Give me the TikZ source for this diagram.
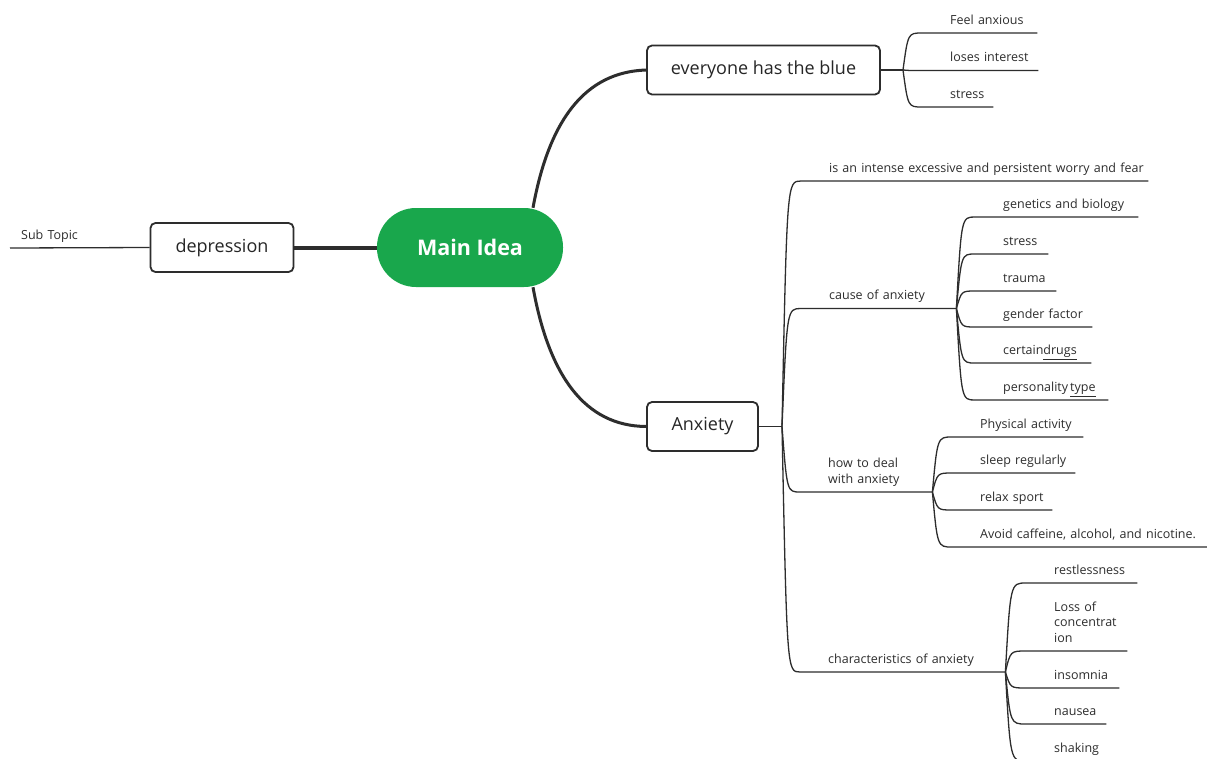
\documentclass[tikz,border=0pt]{standalone}
\usepackage{fontspec}
\setmainfont{Open Sans}
\usetikzlibrary{calc}

\definecolor{ideagreen}{RGB}{25,167,76}
\definecolor{inkgray}{RGB}{45,45,45}

\tikzset{
  topic/.style={draw=inkgray, line width=1.8pt, rounded corners=5pt, fill=white,
    text=black!85, font=\fontsize{18}{21}\selectfont, minimum height=49pt},
  trunk/.style={draw=inkgray, line width=3pt},
  twig/.style={draw=inkgray, line width=1.3pt},
  leaf/.style={anchor=south west, inner xsep=0pt, inner ysep=8.5pt, text depth=0pt,
    align=left, text=inkgray, font=\fontsize{12.5}{15.5}\selectfont},
}

\begin{document}
\begin{tikzpicture}[x=1pt,y=-1pt]
\fill[white] (0,0) rectangle (1207,758); % page size
\useasboundingbox (0,0) rectangle (1207,758);
\clip (0,0) rectangle (1207,758);

% central idea and main topics
\node[fill=ideagreen, rounded corners=39pt, minimum width=186pt, minimum height=79pt,
  text=white, font=\bfseries\fontsize{21.5}{24}\selectfont] (main) at (470,247.5) {Main Idea};
\node[topic, minimum width=143pt] (dep) at (222,247.5) {depression};
\node[topic, minimum width=233pt] (blue) at (763.5,70) {everyone has the blue};
\node[topic, minimum width=111pt] (anx) at (702.5,426.5) {Anxiety};

\draw[trunk, line width=4pt] (dep.east) -- (main.west);
\draw[trunk]
     ($(main.north)+(63,0)$)
  .. controls (549,120) and (585,72) .. (blue.west);
\draw[trunk]
     ($(main.south)+(63,0)$)
  .. controls (549,376) and (585,426) .. (anx.west);

\node[leaf, text width=131pt] (sub) at (21,248) {Sub Topic};
\draw[twig] ($(sub.south west)+(-11,0)$) -- (dep.west);

% everyone has the blue
\draw[twig] (blue.east) -- (903,70) coordinate(bj);
\node[leaf, text width=87pt] (feel) at (950,33) {Feel anxious};
\node[leaf, text width=88pt] (loses) at (950,70.5) {loses interest};
\node[leaf, text width=43pt] (stressa) at (950,107) {stress};

% Anxiety
\draw[twig] (anx.east) -- (782,426.5) coordinate(aj);
\node[leaf, text width=319pt] (intense) at (829,181) {is an intense excessive and persistent worry and fear};
\node[leaf, text width=127pt] (cause) at (829,308.5) {cause of anxiety};
\node[leaf, text width=104pt, text depth=15.5pt] (how) at (828,492) {how to deal\\with anxiety};
\node[leaf, text width=177pt] (chars) at (828,672) {characteristics of anxiety};

% causes
\node[leaf, text width=135pt] (gen) at (1003,217) {genetics and biology};
\node[leaf, text width=45pt] (stressb) at (1003,254) {stress};
\node[leaf, text width=53pt] (trauma) at (1003,291) {trauma};
\node[leaf, text width=89pt] (gender) at (1003,327) {gender factor};
\node[leaf, text width=88pt] (drugs) at (1003,363) {certain\underline{drugs}};
\node[leaf, text width=105pt] (person) at (1003,400) {personality\,\underline{type}};

% dealing with it
\node[leaf, text width=103pt] (phys) at (980,437) {Physical activity};
\node[leaf, text width=95pt] (sleep) at (980,473) {sleep regularly};
\node[leaf, text width=72pt] (relax) at (980,510) {relax sport};
\node[leaf, text width=227pt] (avoid) at (980,547) {Avoid caffeine, alcohol, and nicotine.};

% characteristics
\node[leaf, text width=83pt] (restless) at (1054,583) {restlessness};
\node[leaf, text width=73pt, text depth=31pt] (loss) at (1054,651) {Loss of\\concentrat\\ion};
\node[leaf, text width=65pt] (insom) at (1054,688) {insomnia};
\node[leaf, text width=52pt] (nausea) at (1054,724) {nausea};
\node[leaf, text width=61pt] (shake) at (1054,761) {shaking};

\foreach \j/\l in {bj/feel, bj/loses, bj/stressa,
    aj/intense, aj/cause, aj/how, aj/chars,
    cause.south east/gen, cause.south east/stressb, cause.south east/trauma,
    cause.south east/gender, cause.south east/drugs, cause.south east/person,
    how.south east/phys, how.south east/sleep, how.south east/relax, how.south east/avoid,
    chars.south east/restless, chars.south east/loss, chars.south east/insom,
    chars.south east/nausea, chars.south east/shake}
  \draw[twig]
       (\j)
    .. controls ($(\j |- \l.south)+(5,0)$) .. ($(\l.south west)+(-28,0)$)
    -- (\l.south east);
\end{tikzpicture}
\end{document}
